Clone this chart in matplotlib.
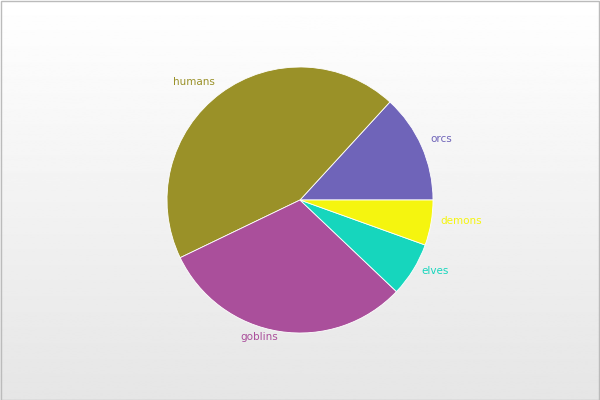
import numpy as np
import matplotlib.pyplot as plt
from matplotlib.patches import Rectangle
from matplotlib.transforms import offset_copy

# data
labels = ["orcs", "humans", "goblins", "elves", "demons"]
values = [12, 40, 28, 6, 5]
colors = ["#6f64b9", "#9a9128", "#aa4f9b", "#16d6bd", "#f5f50f"]

fig = plt.figure(figsize=(6, 4), dpi=100)

# background gradient
bg = fig.add_axes([0, 0, 1, 1])
grad = np.linspace(1.0, 0.9, 256).reshape(-1, 1)
bg.imshow(grad, aspect="auto", cmap="gray", vmin=0, vmax=1, extent=[0, 1, 0, 1])
bg.add_patch(Rectangle((0.001, 0.001), 0.997, 0.996, fill=False, edgecolor="#bbbbbb", lw=1,
                       transform=bg.transAxes))
bg.set_axis_off()

ax = fig.add_axes([0, 0, 1, 1])
ax.set_facecolor("none")
wedges, texts = ax.pie(values, labels=labels, colors=colors, startangle=0, counterclock=True,
                       labeldistance=1.07, radius=1.0,
                       wedgeprops=dict(edgecolor="white", linewidth=0.6),
                       textprops=dict(fontsize=7.5))
for t, c in zip(texts, colors):
    t.set_color(c)
    t.set_transform(offset_copy(ax.transData, fig=fig, x=0, y=3.5, units="dots"))
ax.set_aspect("equal")
ax.set_xlim(-300 / 133, 300 / 133)
ax.set_ylim(-200 / 133, 200 / 133)
ax.set_axis_off()

fig.savefig("out.png", dpi=100)
